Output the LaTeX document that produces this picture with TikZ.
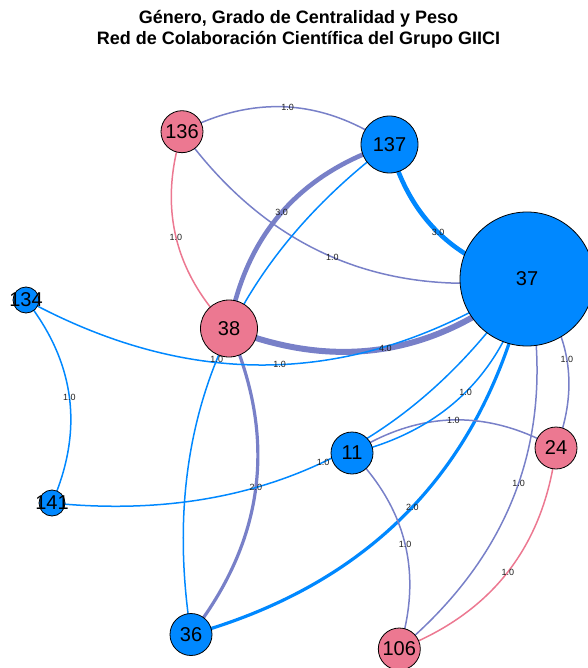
\documentclass[tikz,border=0pt]{standalone}
\usepackage{fontspec}
\setmainfont{Liberation Sans}
\usetikzlibrary{calc}
\pgfdeclarelayer{edges}
\pgfdeclarelayer{labels}
\pgfsetlayers{edges,main,labels}

\definecolor{mblue}{RGB}{0,136,255}
\definecolor{fpink}{RGB}{236,120,145}
\definecolor{mixed}{RGB}{120,128,200}

\tikzset{
  vert/.style={circle, draw=black, line width=0.8pt, inner sep=0pt,
    font=\fontsize{20}{24}\selectfont},
  male/.style={vert, fill=mblue},
  female/.style={vert, fill=fpink},
  mm/.style={draw=mblue},
  ff/.style={draw=fpink},
  mf/.style={draw=mixed},
  wa/.style={line width=1.5pt},
  wb/.style={line width=3.2pt},
  wc/.style={line width=4.6pt},
  wd/.style={line width=6pt},
  elabel/.style={font=\fontsize{9}{10}\selectfont, text=black!88, inner sep=0pt},
  title/.style={font=\bfseries\fontsize{18}{21}\selectfont, anchor=base, inner sep=0pt}
}

% node number set in a zero-width box so the circle keeps its given size
\newcommand\vid[1]{\makebox[0pt]{#1}}

% arc3-style edge: quadratic curve whose control point lies 0.3 chord
% lengths off the chord midpoint; #4 = 90 (bend left) or -90 (bend right)
\newcommand\gedge[5]{%
  \path ($(#2)!0.5!(#3)!0.6!#4:(#3)$) coordinate (ctl);
  \begin{pgfonlayer}{edges}
    \draw[#1] (#2.center) .. controls ($(#2.center)!2/3!(ctl)$) and ($(#3.center)!2/3!(ctl)$) .. (#3.center)
      coordinate[pos=0.5] (lab);
  \end{pgfonlayer}
  \begin{pgfonlayer}{labels}
    \node[elabel] at (lab) {#5};
  \end{pgfonlayer}}

\begin{document}
\begin{tikzpicture}[x=1pt, y=-1pt]
  \useasboundingbox (0,0) rectangle (587,668);

  \node[title] (t1) at (298.5,24) {Género, Grado de Centralidad y Peso};
  \node[title] (t2) at (298.5,45) {Red de Colaboración Científica del Grupo GIICI};

  % researchers
  \node[male,   minimum size=134pt] (n37)  at (527,279)   {\vid{37}};
  \node[female, minimum size=57pt]  (n38)  at (229,328.5) {\vid{38}};
  \node[male,   minimum size=57pt]  (n137) at (389.5,144.5) {\vid{137}};
  \node[female, minimum size=42pt]  (n136) at (182,131.7) {\vid{136}};
  \node[male,   minimum size=42pt]  (n11)  at (352,453)   {\vid{11}};
  \node[female, minimum size=42pt]  (n24)  at (556,448)   {\vid{24}};
  \node[male,   minimum size=42pt]  (n36)  at (191,634.5) {\vid{36}};
  \node[female, minimum size=42pt]  (n106) at (399.3,649) {\vid{106}};
  \node[male,   minimum size=26pt]  (n134) at (26,300)    {\vid{134}};
  \node[male,   minimum size=26pt]  (n141) at (52,503)    {\vid{141}};

  % collaborations
  \gedge{mf,wa}{n136}{n137}{90}{1.0}
  \gedge{mf,wa}{n136}{n37}{-90}{1.0}
  \gedge{ff,wa}{n136}{n38}{-90}{1.0}
  \gedge{mf,wc}{n137}{n38}{-90}{3.0}
  \gedge{mm,wa}{n137}{n36}{-90}{1.0}
  \gedge{mm,wc}{n137}{n37}{-90}{3.0}
  \gedge{mf,wd}{n38}{n37}{-90}{4.0}
  \gedge{mf,wb}{n38}{n36}{90}{2.0}
  \gedge{mm,wa}{n134}{n141}{90}{1.0}
  \gedge{mm,wa}{n134}{n37}{-90}{1.0}
  \gedge{mm,wa}{n141}{n37}{-90}{1.0}
  \gedge{mm,wb}{n36}{n37}{-90}{2.0}
  \gedge{mf,wa}{n11}{n24}{90}{1.0}
  \gedge{mm,wa}{n11}{n37}{-90}{1.0}
  \gedge{mf,wa}{n11}{n106}{90}{1.0}
  \gedge{mf,wa}{n37}{n24}{90}{1.0}
  \gedge{mf,wa}{n37}{n106}{90}{1.0}
  \gedge{ff,wa}{n24}{n106}{90}{1.0}
\end{tikzpicture}
\end{document}
